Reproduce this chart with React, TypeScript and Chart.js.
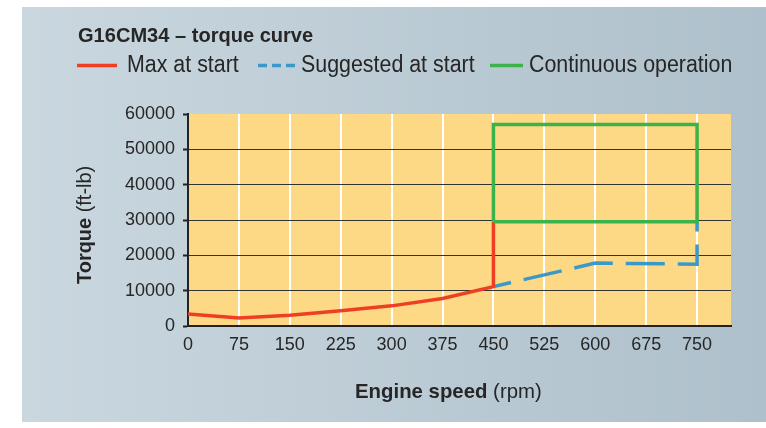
import React, { useEffect, useRef } from "react";
import { Chart, registerables } from "chart.js";

Chart.register(...registerables);

// ---- data ----
const maxStartSpeed = [0, 75, 150, 225, 300, 375, 450, 450];
const maxStartTorque = [3400, 2300, 3050, 4300, 5700, 7800, 11150, 29500];
const suggestedSpeed = [450, 600, 750, 750];
const suggestedTorque = [11150, 17800, 17500, 29500];
const continuousSpeed = [450, 450, 750, 750, 450];
const continuousTorque = [29500, 57000, 57000, 29500, 29500];
const xTickValues = [0, 75, 150, 225, 300, 375, 450, 525, 600, 675, 750];
const yTickValues = [0, 10000, 20000, 30000, 40000, 50000, 60000];
const seriesNames = ["Max at start", "Suggested at start", "Continuous operation"];
const chartTitle = "G16CM34 \u2013 torque curve";
const xTitleBold = "Engine speed";
const xTitleUnit = " (rpm)";
const yTitleBold = "Torque";
const yTitleUnit = " (ft-lb)";

const FAMILY = '"Liberation Sans", Arial, sans-serif';
const RED = "#ee3f24";
const BLUE = "#3a99c7";
const GREEN = "#3bb34a";
const YELLOW = "#fed985";
const TEXT = "#262626";

type Part = { text: string; bold?: boolean };

function drawParts(ctx: CanvasRenderingContext2D, parts: Part[], size: number, sx: number) {
  ctx.save();
  ctx.scale(sx, 1);
  ctx.textAlign = "left";
  ctx.textBaseline = "alphabetic";
  ctx.fillStyle = TEXT;
  let cx = 0;
  for (const p of parts) {
    ctx.font = `${p.bold ? "bold " : ""}${size}px ${FAMILY}`;
    ctx.fillText(p.text, cx, 0);
    cx += ctx.measureText(p.text).width;
  }
  ctx.restore();
}

const plotBgPlugin = {
  id: "plotBg",
  beforeDraw(chart: any) {
    const { ctx, chartArea } = chart;
    ctx.save();
    ctx.fillStyle = YELLOW;
    ctx.fillRect(chartArea.left, chartArea.top, chartArea.right - chartArea.left, chartArea.bottom - chartArea.top);
    ctx.restore();
  },
};

const textPlugin = {
  id: "texts",
  afterDraw(chart: any) {
    const ctx: CanvasRenderingContext2D = chart.ctx;
    // title
    ctx.save();
    ctx.translate(78, 42);
    drawParts(ctx, [{ text: chartTitle, bold: true }], 21, 0.955);
    ctx.restore();

    // legend
    const legendY = 65.5;
    const items = [
      { x0: 77, x1: 117, tx: 127, color: RED, dash: [] as number[] },
      { x0: 258, x1: 295, tx: 301, color: BLUE, dash: [9, 5] },
      { x0: 490, x1: 523, tx: 529, color: GREEN, dash: [] as number[] },
    ];
    items.forEach((it, i) => {
      ctx.save();
      ctx.strokeStyle = it.color;
      ctx.lineWidth = 3.5;
      ctx.setLineDash(it.dash);
      ctx.beginPath();
      ctx.moveTo(it.x0, legendY);
      ctx.lineTo(it.x1, legendY);
      ctx.stroke();
      ctx.restore();
      ctx.save();
      ctx.translate(it.tx, 71.5);
      drawParts(ctx, [{ text: seriesNames[i] }], 23, 0.93);
      ctx.restore();
    });

    // x axis title
    ctx.save();
    ctx.translate(355, 398);
    drawParts(ctx, [{ text: xTitleBold, bold: true }, { text: xTitleUnit }], 21, 0.97);
    ctx.restore();

    // y axis title
    ctx.save();
    ctx.translate(91, 284);
    ctx.rotate(-Math.PI / 2);
    drawParts(ctx, [{ text: yTitleBold, bold: true }, { text: yTitleUnit }], 21, 0.95);
    ctx.restore();
  },
};

export default function App() {
  const ref = useRef<HTMLCanvasElement | null>(null);

  useEffect(() => {
    if (!ref.current) return;
    const toPts = (xs: number[], ys: number[]) => xs.map((x, i) => ({ x, y: ys[i] }));
    const chart = new Chart(ref.current, {
      type: "line",
      data: {
        datasets: [
          {
            label: seriesNames[0],
            data: toPts(maxStartSpeed, maxStartTorque),
            borderColor: RED,
            borderWidth: 3.5,
            pointRadius: 0,
            tension: 0,
            order: 2,
          },
          {
            label: seriesNames[1],
            data: toPts(suggestedSpeed, suggestedTorque),
            borderColor: BLUE,
            borderWidth: 3.5,
            borderDash: [39, 13],
            borderDashOffset: 21,
            pointRadius: 0,
            tension: 0,
            order: 3,
          },
          {
            label: seriesNames[2],
            data: toPts(continuousSpeed, continuousTorque),
            borderColor: GREEN,
            borderWidth: 3.5,
            borderJoinStyle: "miter",
            pointRadius: 0,
            tension: 0,
            order: 1,
          },
        ] as any,
      },
      options: {
        animation: false,
        responsive: false,
        devicePixelRatio: 1,
        layout: { padding: { left: 100, right: 35, top: 114, bottom: 62 } },
        plugins: {
          legend: { display: false },
          title: { display: false },
          tooltip: { enabled: false },
        },
        elements: { line: { fill: false } },
        scales: {
          x: {
            type: "linear",
            min: 0,
            max: 800,
            afterBuildTicks: (s: any) => {
              s.ticks = xTickValues.map((v) => ({ value: v }));
            },
            afterFit: (s: any) => {
              s.height = 40;
            },
            ticks: {
              color: TEXT,
              font: { family: FAMILY, size: 18 },
              padding: 8,
              maxRotation: 0,
              autoSkip: false,
              callback: (v: any) => String(v),
            },
            grid: {
              color: (c: any) => (c.tick && c.tick.value === 0 ? "rgba(0,0,0,0)" : "#ffffff"),
              lineWidth: 2,
              drawTicks: false,
            },
            border: { color: "#222222", width: 2 },
          },
          y: {
            type: "linear",
            min: 0,
            max: 60000,
            afterBuildTicks: (s: any) => {
              s.ticks = yTickValues.map((v) => ({ value: v }));
            },
            afterFit: (s: any) => {
              s.width = 88;
            },
            ticks: {
              color: TEXT,
              font: { family: FAMILY, size: 18 },
              padding: 8,
              autoSkip: false,
              callback: (v: any) => String(v),
            },
            grid: {
              color: (c: any) =>
                c.tick && (c.tick.value === 0 || c.tick.value === 60000) ? "rgba(0,0,0,0)" : "#333333",
              lineWidth: 1,
              tickLength: 5,
              tickColor: "#222222",
              tickWidth: 2,
            },
            border: { color: "#222222", width: 2 },
          },
        },
      },
      plugins: [plotBgPlugin, textPlugin],
    } as any);
    return () => chart.destroy();
  }, []);

  return (
    <div style={{ position: "absolute", left: 0, top: 0, width: 766, height: 428, background: "#ffffff" }}>
      <div
        style={{
          position: "absolute",
          left: 22,
          top: 7,
          width: 744,
          height: 415,
          background: "linear-gradient(to right, #cad7df, #aec0cb)",
        }}
      />
      <canvas
        ref={ref}
        width={766}
        height={428}
        style={{ position: "absolute", left: 0, top: 0, width: 766, height: 428 }}
      />
    </div>
  );
}
